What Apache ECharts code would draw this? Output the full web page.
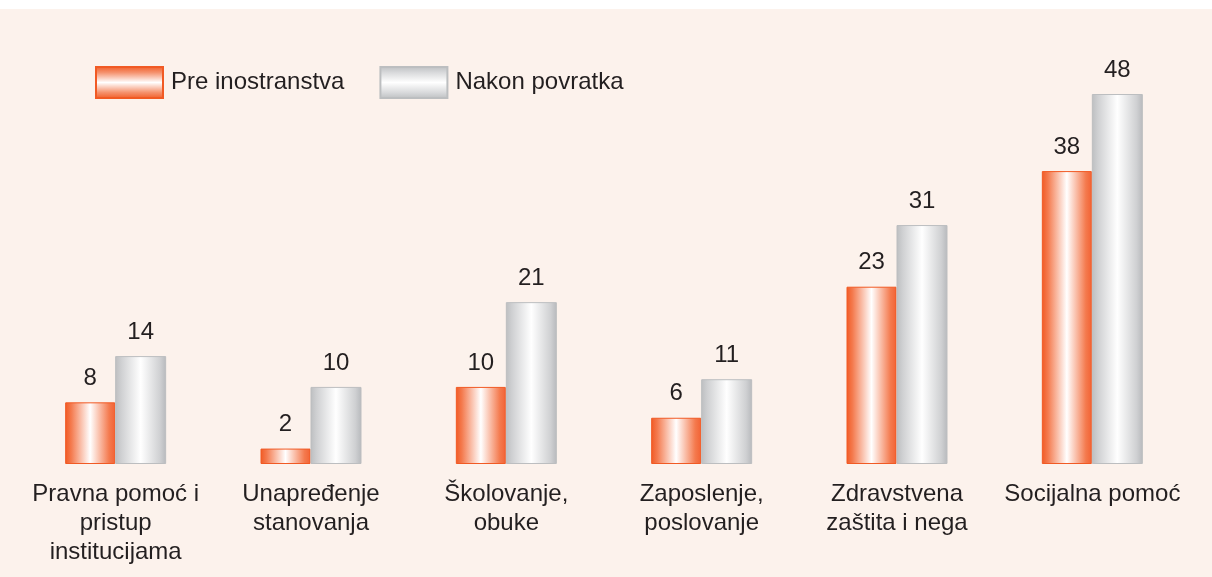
<!DOCTYPE html>
<html>
<head>
<meta charset="UTF-8">
<title></title>
<script src="https://cdn.jsdelivr.net/npm/echarts@6/dist/echarts.min.js"></script>
<style>
  html, body { margin: 0; padding: 0; background: #fff; }
  #chart { width: 1212px; height: 577px; }
</style>
</head>
<body>
<div id="chart"></div>
<script type="text/javascript">
// podaci
var categories = ['Pravna pomoć i\npristup\ninstitucijama', 'Unapređenje\nstanovanja', 'Školovanje,\nobuke', 'Zaposlenje,\nposlovanje', 'Zdravstvena\nzaštita i nega', 'Socijalna pomoć'];
var preInostranstva = [8, 2, 10, 6, 23, 38];
var nakonPovratka = [14, 10, 21, 11, 31, 48];
var seriesNames = ['Pre inostranstva', 'Nakon povratka'];

var font = '"Liberation Sans", Arial, sans-serif';

function hGrad(edge, mid, edge2) {
  return new echarts.graphic.LinearGradient(0, 0, 1, 0, [
    { offset: 0, color: edge },
    { offset: 0.12, color: mid },
    { offset: 0.5, color: '#ffffff' },
    { offset: 0.88, color: mid },
    { offset: 1, color: edge2 }
  ]);
}
function vGrad(edge, mid) {
  return new echarts.graphic.LinearGradient(0, 0, 0, 1, [
    { offset: 0, color: edge },
    { offset: 0.2, color: mid },
    { offset: 0.5, color: '#ffffff' },
    { offset: 0.8, color: mid },
    { offset: 1, color: edge }
  ]);
}

var orangeBar = hGrad('#f15a24', '#f47a4e', '#f26234');
var grayBar = hGrad('#bcbec0', '#cfd0d2', '#b7b9bc');

var chart = echarts.init(document.getElementById('chart'));
chart.setOption({
  backgroundColor: '#fcf2ec',
  animation: false,
  graphic: [{
    type: 'rect', left: 0, top: 0,
    shape: { width: 1212, height: 9 },
    style: { fill: '#ffffff' }, silent: true
  }],
  legend: {
    left: 95,
    top: 66,
    padding: 0,
    icon: 'rect',
    itemWidth: 67,
    itemHeight: 31,
    itemGap: 35,
    textStyle: { fontFamily: font, fontSize: 24, color: '#231f20', padding: [0, 0, 0, 3] },
    data: [
      { name: seriesNames[0], itemStyle: { color: vGrad('#f15a24', '#f5926e'), borderColor: '#f15a24', borderWidth: 2 } },
      { name: seriesNames[1], itemStyle: { color: vGrad('#bcbec0', '#d9dadc'), borderColor: '#bcbec0', borderWidth: 2 } }
    ]
  },
  grid: { left: 18, right: 22, top: 94, bottom: 113, containLabel: false },
  xAxis: {
    type: 'category',
    data: categories,
    axisLine: { show: false },
    axisTick: { show: false },
    axisLabel: {
      interval: 0,
      margin: 16,
      fontFamily: font,
      fontSize: 24,
      lineHeight: 29,
      color: '#231f20',
      align: 'center'
    }
  },
  yAxis: {
    type: 'value',
    min: 0,
    max: 48,
    show: false,
    splitLine: { show: false }
  },
  series: [{
    name: seriesNames[0],
    type: 'bar',
    data: preInostranstva,
    barWidth: 50,
    barGap: '0%',
    itemStyle: { color: orangeBar, borderColor: '#f15a24', borderWidth: 1 },
    label: { show: true, position: 'top', distance: 12, fontFamily: font, fontSize: 24, color: '#231f20' }
  }, {
    name: seriesNames[1],
    type: 'bar',
    data: nakonPovratka,
    barWidth: 51,
    itemStyle: { color: grayBar, borderColor: '#bcbec0', borderWidth: 1 },
    label: { show: true, position: 'top', distance: 12, fontFamily: font, fontSize: 24, color: '#231f20' }
  }]
});
</script>
</body>
</html>
